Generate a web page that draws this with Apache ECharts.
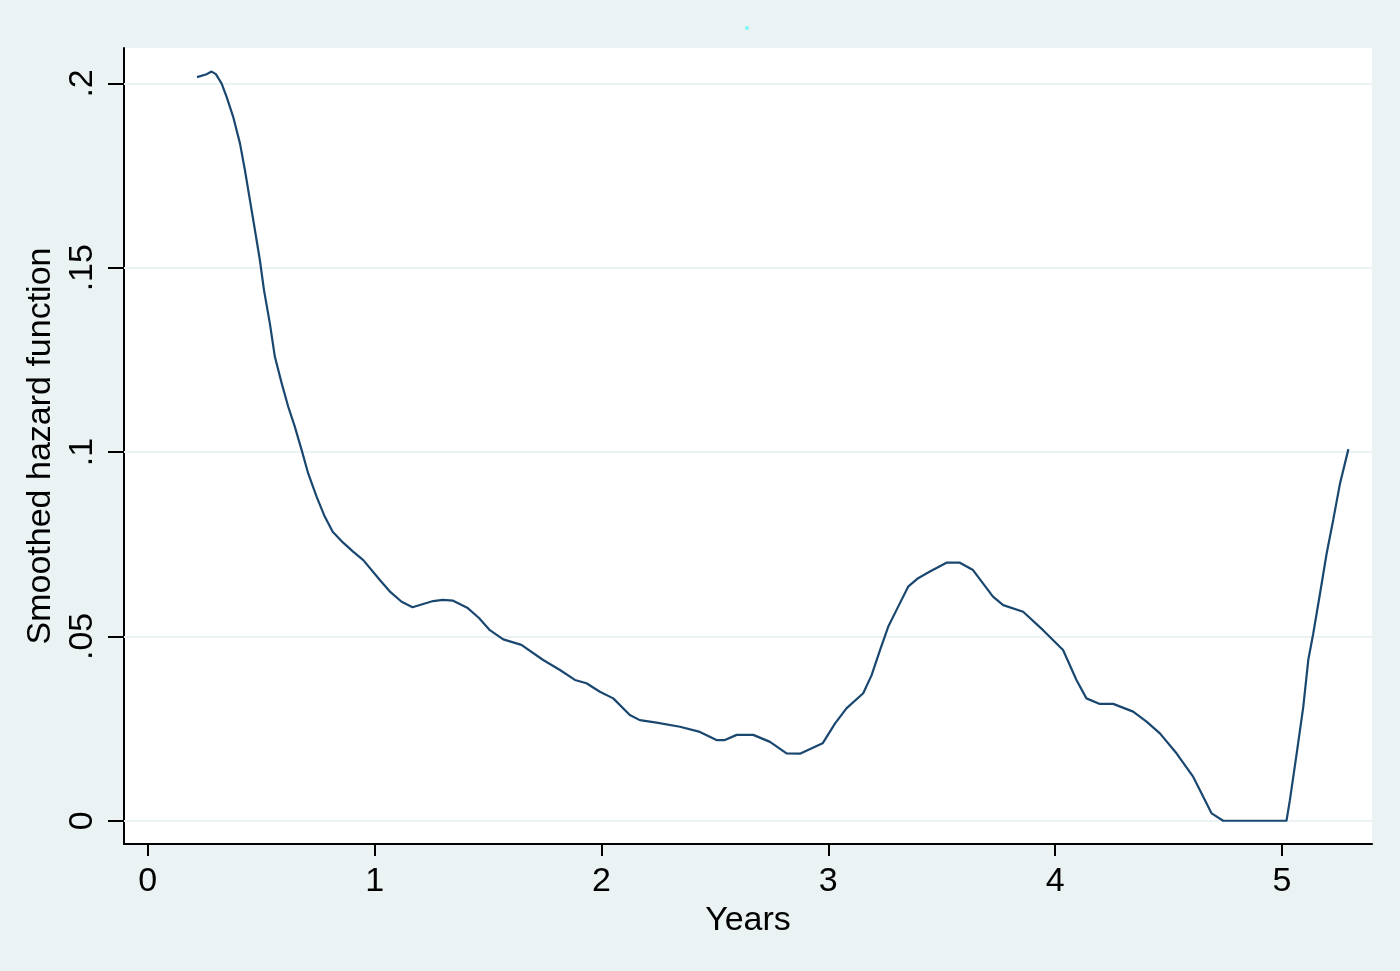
<!DOCTYPE html>
<html>
<head>
<meta charset="utf-8">
<script src="https://cdn.jsdelivr.net/npm/echarts@6/dist/echarts.min.js"></script>
<style>
html,body{margin:0;padding:0;background:#EAF2F3;}
#chart{width:1400px;height:971px;}
</style>
</head>
<body>
<div id="chart"></div>
<script>
var years = [0.217,0.259,0.281,0.300,0.325,0.347,0.376,0.406,0.428,0.450,0.472,0.494,0.512,0.538,0.560,0.590,0.619,0.648,0.678,0.707,0.744,0.780,0.815,0.860,0.905,0.950,1.023,1.070,1.119,1.167,1.214,1.258,1.300,1.346,1.408,1.460,1.508,1.567,1.647,1.743,1.817,1.883,1.934,1.993,2.052,2.125,2.169,2.243,2.346,2.434,2.507,2.544,2.596,2.669,2.743,2.816,2.875,2.975,3.030,3.080,3.154,3.191,3.228,3.264,3.301,3.352,3.396,3.448,3.521,3.580,3.638,3.682,3.726,3.771,3.859,3.947,4.035,4.094,4.138,4.197,4.256,4.344,4.403,4.462,4.535,4.609,4.653,4.690,4.741,5.020,5.035,5.065,5.094,5.116,5.138,5.168,5.197,5.226,5.256,5.293];
var hazard = [0.2017,0.2025,0.2032,0.2025,0.2000,0.1964,0.1910,0.1838,0.1765,0.1684,0.1603,0.1521,0.1440,0.1349,0.1259,0.1187,0.1123,0.1069,0.1006,0.0942,0.0879,0.0825,0.0784,0.0755,0.0730,0.0707,0.0653,0.0620,0.0594,0.0579,0.0588,0.0596,0.0599,0.0597,0.0578,0.0550,0.0517,0.0492,0.0477,0.0436,0.0409,0.0382,0.0373,0.0350,0.0332,0.0287,0.0273,0.0266,0.0255,0.0241,0.0219,0.0219,0.0233,0.0233,0.0214,0.0183,0.0182,0.0210,0.0264,0.0305,0.0346,0.0395,0.0463,0.0526,0.0572,0.0635,0.0658,0.0676,0.0700,0.0700,0.0680,0.0644,0.0608,0.0585,0.0567,0.0517,0.0463,0.0382,0.0332,0.0317,0.0317,0.0296,0.0269,0.0237,0.0183,0.0119,0.0065,0.0020,0.0000,0.0000,0.0056,0.0183,0.0309,0.0436,0.0508,0.0617,0.0725,0.0816,0.0915,0.1008];
var xTicks = [0,1,2,3,4,5];
var yTicks = [0,0.05,0.1,0.15,0.2];
var xTitle = 'Years';
var yTitle = 'Smoothed hazard function';

var pts = years.map(function(x,i){return [x,hazard[i]];});
var font = 'Liberation Sans, Arial, sans-serif';
var chart = echarts.init(document.getElementById('chart'), null, {renderer:'canvas'});
chart.setOption({
  backgroundColor:'#EAF2F3',
  animation:false,
  grid:{left:124,right:28,top:48,bottom:127,show:true,backgroundColor:'#ffffff',borderWidth:0},
  xAxis:{
    type:'value',min:-0.105,max:5.397,
    name:xTitle,nameLocation:'middle',nameGap:57,
    nameTextStyle:{fontFamily:font,fontSize:34,color:'#000'},
    axisLine:{show:true,onZero:false,lineStyle:{color:'#000',width:2}},
    axisTick:{show:true,length:12,lineStyle:{color:'#000',width:2},customValues:xTicks},
    axisLabel:{show:true,margin:21,fontFamily:font,fontSize:34,color:'#000',customValues:xTicks,formatter:function(v){return String(v);}},
    splitLine:{show:false}
  },
  yAxis:{
    type:'value',min:-0.0063,max:0.2096,
    name:yTitle,nameLocation:'middle',nameGap:64,
    nameTextStyle:{fontFamily:font,fontSize:34,color:'#000'},
    axisLine:{show:true,onZero:false,lineStyle:{color:'#000',width:2}},
    axisTick:{show:true,length:16,lineStyle:{color:'#000',width:2},customValues:yTicks},
    axisLabel:{show:true,rotate:90,margin:24,fontFamily:font,fontSize:34,color:'#000',customValues:yTicks,
      formatter:function(v){var s=String(Math.round(v*100)/100);return s==='0'?'0':s.replace(/^0/,'');}},
    splitLine:{show:false}
  },
  series:[
    {type:'line',data:[],z:1,silent:true,
     markLine:{silent:true,z:1,symbol:'none',label:{show:false},animation:false,
       lineStyle:{color:'#EAF2F3',width:2,type:'solid'},
       data:yTicks.map(function(v){return {yAxis:v};})}},
    {type:'line',data:pts,z:6,showSymbol:false,smooth:false,
     lineStyle:{color:'#1A476F',width:2.2},itemStyle:{color:'#1A476F'}}
  ],
  graphic:[{type:'circle',shape:{cx:747,cy:28,r:2},style:{fill:'#7FF7F7'},silent:true}]
});
</script>
</body>
</html>
